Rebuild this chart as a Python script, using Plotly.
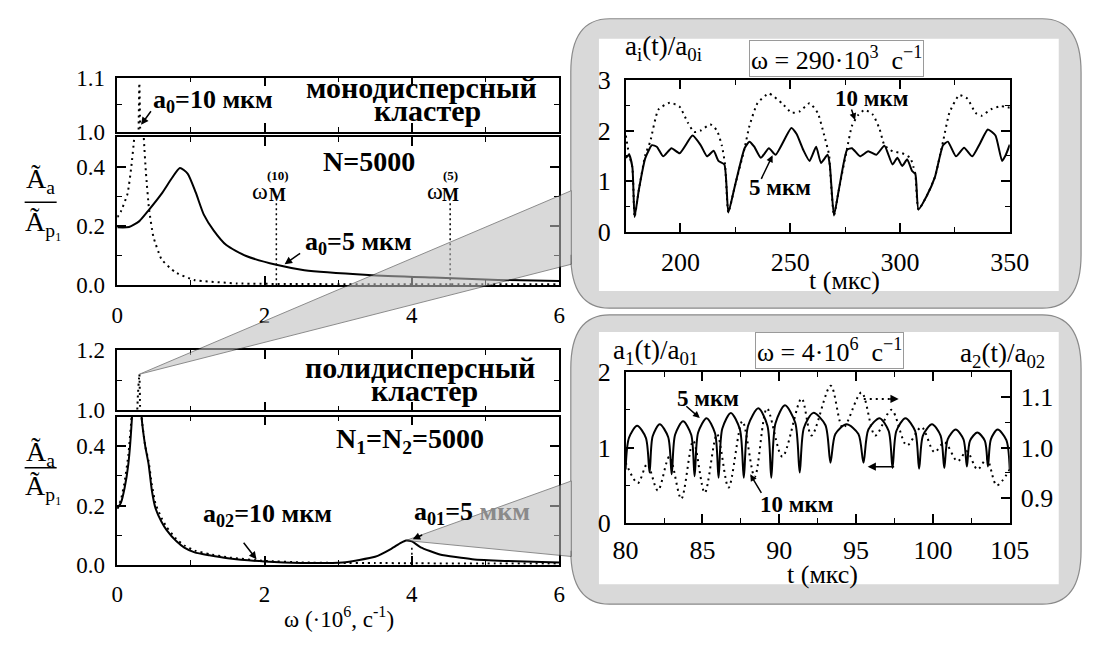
import plotly.graph_objects as go

W, H = 1103, 645
FONT = "Times New Roman, Liberation Serif, Tinos, Times, serif"

# ---------------- data ----------------
# monodisperse cluster, N=5000
w_mono5 = [0.0, 0.16, 0.30, 0.43, 0.60, 0.74, 0.85, 0.955, 1.065, 1.175, 1.31, 1.48, 1.75, 2.16, 2.54, 3.41, 4.29, 5.17, 6.0]
A_mono5 = [0.196, 0.197, 0.217, 0.255, 0.309, 0.362, 0.397, 0.378, 0.314, 0.239, 0.185, 0.136, 0.099, 0.069, 0.051, 0.035, 0.026, 0.018, 0.014]
w_mono10 = [0.0, 0.05, 0.14, 0.19, 0.23, 0.27, 0.30, 0.33, 0.36, 0.39, 0.43, 0.49, 0.60, 0.78, 1.04, 1.63, 2.5, 4.0, 6.0]
A_mono10 = [0.23, 0.25, 0.31, 0.40, 0.50, 0.80, 1.09, 0.80, 0.50, 0.378, 0.26, 0.164, 0.088, 0.045, 0.018, 0.006, 0.004, 0.003, 0.003]
w_M = [2.16, 4.52]          # omega_M^(10), omega_M^(5)
A_M = 0.285                 # height of the marker lines

# polydisperse cluster, N1=N2=5000
w_poly5 = [0, 0.05, 0.1, 0.15, 0.2, 0.24, 0.27, 0.30, 0.33, 0.38, 0.425, 0.47, 0.52, 0.6, 0.67, 0.8, 0.91, 1.05, 1.25,
           1.5, 2.0, 2.5, 3.06, 3.5, 3.72, 3.85, 3.92, 4.0, 4.12, 4.38, 4.82, 5.26, 6.0]
A_poly5 = [0.19, 0.21, 0.26, 0.34, 0.5, 0.75, 0.9, 0.75, 0.5, 0.4, 0.34, 0.25, 0.19, 0.145, 0.117, 0.08, 0.058, 0.042, 0.032,
           0.022, 0.011, 0.006, 0.008, 0.027, 0.054, 0.074, 0.082, 0.079, 0.059, 0.035, 0.019, 0.013, 0.008]
w_poly10 = [0, 0.05, 0.1, 0.15, 0.2, 0.24, 0.28, 0.30, 0.31, 0.33, 0.38, 0.425, 0.47, 0.52, 0.6, 0.67, 0.8, 0.91, 1.05,
            1.25, 1.5, 2.0, 2.5, 3.0, 3.5, 4.0, 5.0, 6.0]
A_poly10 = [0.19, 0.22, 0.28, 0.37, 0.52, 0.8, 1.05, 1.12, 1.0, 0.5, 0.4, 0.35, 0.27, 0.205, 0.158, 0.127, 0.087, 0.065, 0.048,
            0.036, 0.025, 0.013, 0.008, 0.006, 0.006, 0.005, 0.004, 0.004]
w_mark = 4.0
A_mark = 0.065

# a_i(t)/a_0i at omega = 290e3 1/s
t_top5 = [175.1, 176.6, 178.1, 179.1, 181, 184, 187, 189.2, 192.1, 195.9, 199.6, 205.5, 209.2, 212.1, 215.1, 217.3,
          220, 221.8, 224.7, 229.2, 231.4, 233.6, 236.6, 240.3, 243.3, 250.5, 252.9, 255.9, 258.8, 261.8, 264, 267,
          268, 269.9, 272.1, 275.9, 278.1, 281.8, 285.5, 289.2, 292.9, 296.6, 298.8, 301, 303.3, 305.5, 307, 308.4,
          312.1, 315.9, 319.6, 321.8, 325.5, 329.2, 332.9, 336.5, 340, 343.5, 346.5, 348, 350]
a_top5 = [1.46, 1.52, 1.27, 0.29, 0.82, 1.46, 1.71, 1.68, 1.49, 1.65, 1.55, 1.90, 1.71, 1.49, 1.60, 1.40,
          1.33, 0.38, 0.89, 1.65, 1.78, 1.68, 1.46, 1.65, 1.52, 2.05, 1.93, 1.62, 1.40, 1.68, 1.36, 1.52,
          1.33, 0.32, 0.82, 1.62, 1.65, 1.49, 1.59, 1.52, 1.70, 1.33, 1.46, 1.30, 1.43, 1.20, 1.14, 0.44,
          0.70, 1.08, 1.71, 1.78, 1.49, 1.66, 1.49, 1.75, 2.02, 1.90, 1.40, 1.50, 1.72]
t_top10 = [175.1, 176.6, 178.1, 179.1, 181, 184, 186.2, 189.9, 195.1, 199.6, 203.3, 206.2, 209.2, 213.6, 216.6, 218.8,
           220.3, 221.8, 224.7, 229.2, 231.4, 235.1, 240.3, 246.2, 250.7, 254.4, 258.8, 262.5, 265.5, 267.7, 268,
           269.9, 272.1, 275.9, 278.1, 281, 284, 287.7, 290.7, 292.9, 296.6, 301, 304.7, 306.2, 307, 308.4, 312.1,
           315.9, 319.6, 322.5, 327, 330.7, 334.4, 337, 341.5, 346, 350]
a_top10 = [1.90, 1.52, 1.27, 0.29, 0.82, 1.52, 1.78, 2.41, 2.55, 2.47, 2.16, 1.97, 2.0, 2.12, 2.0, 1.71,
           1.33, 0.38, 0.89, 1.65, 2.09, 2.54, 2.73, 2.54, 2.35, 2.38, 2.54, 2.35, 1.90, 1.52, 1.33,
           0.32, 0.82, 1.65, 2.09, 2.31, 2.41, 2.31, 2.03, 1.71, 1.59, 1.55, 1.46, 1.27, 1.14, 0.44, 0.70,
           1.08, 1.78, 2.35, 2.70, 2.63, 2.35, 2.29, 2.42, 2.48, 2.45]

# a_1(t)/a_01 (left axis) and a_2(t)/a_02 (right axis) at omega = 4e6 1/s
t_bot5 = [80.0, 80.22, 80.75, 81.32, 81.56, 81.76, 82.22, 82.77, 83.0, 83.22, 83.74, 84.27, 84.49, 84.72, 85.27, 85.82,
          86.05, 86.29, 86.85, 87.44, 87.69, 87.97, 88.64, 89.23, 89.48, 89.75, 90.37, 91.04, 91.33, 91.6, 92.22, 93.0,
          93.33, 93.65, 94.38, 95.15, 95.48, 95.8, 96.53, 97.12, 97.37, 97.62, 98.21, 98.84, 99.1, 99.35, 99.94, 100.5,
          100.74, 100.96, 101.48, 101.99, 102.21, 102.41, 102.89, 103.38, 103.58, 103.77, 104.21, 104.78, 105.0]
a_bot5 = [0.71, 1.13, 1.29, 1.13, 0.67, 1.15, 1.31, 1.14, 0.645, 1.17, 1.35, 1.17, 0.62, 1.20, 1.39, 1.19,
          0.60, 1.25, 1.46, 1.24, 0.60, 1.29, 1.52, 1.29, 0.60, 1.32, 1.56, 1.33, 0.67, 1.26, 1.46, 1.30,
          0.80, 1.18, 1.31, 1.18, 0.80, 1.24, 1.39, 1.22, 0.73, 1.22, 1.39, 1.22, 0.72, 1.16, 1.31, 1.16,
          0.73, 1.11, 1.24, 1.11, 0.75, 1.09, 1.20, 1.09, 0.75, 1.11, 1.24, 1.10, 0.70]
t_bot10 = [80.0, 80.8, 81.4, 82.1, 82.85, 83.62, 84.4, 85.15, 85.95, 86.7, 87.6, 88.4, 89.2, 90.2, 91.45, 92.1,
           93.35, 94.15, 95.35, 96.25, 97.3, 98.3, 99.25, 100.1, 100.75, 101.6, 102.2, 102.9, 103.5, 104.15, 105.0]
a_bot10 = [0.970, 0.9295, 0.967, 0.9145, 0.982, 0.898, 1.0135, 0.910, 1.027, 0.9205, 1.0525, 0.9415, 1.078, 0.982,
           1.0975, 1.024, 1.123, 1.039, 1.1095, 1.024, 1.075, 1.0045, 1.0405, 0.991, 1.0105, 0.973, 0.9925,
           0.9565, 0.9775, 0.925, 0.9565]

# ---------------- layout geometry (pixels) ----------------
def fx(x):
    return x / W


def fy(y):
    return 1 - y / H


LXP = (107.5, 563.0)
RXP = (631.5, 1027.5)
BOX = {
    "A_up": (66.7, 123.3), "A_lo": (129.3, 284.0),
    "B_up": (352.0, 415.0), "B_lo": (421.7, 576.7),
    "R_top": (69.0, 228.0), "R_bot": (375.0, 533.0),
}
RANGES = {"A_up": (1.0, 1.1), "A_lo": (0, 0.5), "B_up": (1.0, 1.2), "B_lo": (0, 0.5)}
WR = (0, 6)


def dom(key):
    t, b = BOX[key]
    return [fy(b), fy(t)]


def data_px(wv, av, key):
    t, b = BOX[key]
    r0, r1 = RANGES[key]
    x = LXP[0] + (wv - WR[0]) / (WR[1] - WR[0]) * (LXP[1] - LXP[0])
    y = b - (av - r0) / (r1 - r0) * (b - t)
    return x, y


fig = go.Figure()


def add(x, y, xa, ya, dash="solid", width=2.0, shape="linear", smoothing=1.0):
    fig.add_trace(go.Scatter(x=x, y=y, xaxis=xa, yaxis=ya, mode="lines",
                             line=dict(color="black", width=width, dash=dash, shape=shape, smoothing=smoothing),
                             hoverinfo="skip", showlegend=False))


DOT = "2px,4px"
for xa, ya in (("x", "y"), ("x2", "y2")):
    add(w_mono5, A_mono5, xa, ya, shape="spline", smoothing=0.6)
    add(w_mono10, A_mono10, xa, ya, dash=DOT, shape="spline", smoothing=0.4)
for wm in w_M:
    add([wm, wm], [0, A_M], "x2", "y2", dash="2px,3px", width=1.5)
for xa, ya in (("x3", "y3"), ("x4", "y4")):
    add(w_poly5, A_poly5, xa, ya, shape="spline", smoothing=0.5)
    add(w_poly10, A_poly10, xa, ya, dash=DOT, shape="spline", smoothing=0.4)
add([w_mark, w_mark], [0, A_mark], "x4", "y4", dash="2px,3px", width=1.5)
add(t_top10, a_top10, "x5", "y5", dash=DOT, width=2, shape="spline", smoothing=0.5)
add(t_top5, a_top5, "x5", "y5", width=2, shape="spline", smoothing=0.5)
add(t_bot5, a_bot5, "x6", "y6", width=2, shape="spline", smoothing=0.8)
add(t_bot10, a_bot10, "x6", "y7", dash="2px,4px", width=2, shape="spline", smoothing=0.9)

# ---------------- axes ----------------
def minor(dt, ln=5):
    return dict(ticks="inside", ticklen=ln, tickwidth=1.2, tickcolor="black", dtick=dt, showgrid=False)


def base(size=23, **kw):
    d = dict(showline=True, linecolor="black", linewidth=1.5, ticks="inside", tickcolor="black", tickwidth=1.5,
             ticklen=9, showgrid=False, zeroline=False, mirror="ticks",
             tickfont=dict(family=FONT, size=size, color="black"), fixedrange=True)
    d.update(kw)
    return d


lay = {}
LX = [fx(LXP[0]), fx(LXP[1])]
RX = [fx(RXP[0]), fx(RXP[1])]
for i, key in ((1, "A_up"), (2, "A_lo"), (3, "B_up"), (4, "B_lo")):
    sx = "" if i == 1 else str(i)
    upper = key.endswith("up")
    lay["xaxis" + sx] = base(domain=LX, range=list(WR), anchor="y" + sx, dtick=2, tick0=0, minor=minor(1),
                             showticklabels=not upper, ticklabelstandoff=8)
    lay["yaxis" + sx] = base(domain=dom(key), range=list(RANGES[key]), anchor="x" + sx,
                             dtick=(0.1 if key == "A_up" else 0.2), tick0=(1.0 if upper else 0),
                             minor=minor(0.05 if key == "A_up" else 0.1), tickformat=".1f", ticklabelstandoff=6)
lay["xaxis5"] = base(26, domain=RX, range=[175, 350], anchor="y5", dtick=50, tick0=0, minor=minor(25),
                     ticklabelstandoff=6)
lay["yaxis5"] = base(26, domain=dom("R_top"), range=[0, 3], anchor="x5", dtick=1, minor=minor(0.5),
                     ticklabelstandoff=8)
lay["xaxis6"] = base(26, domain=RX, range=[80, 105], anchor="y6", dtick=5, tick0=0, minor=minor(2.5),
                     ticklabelstandoff=3)
lay["yaxis6"] = base(26, domain=dom("R_bot"), range=[0, 2], anchor="x6", dtick=1, minor=minor(0.5),
                     mirror=False, ticklabelstandoff=8)
lay["yaxis7"] = base(26, range=[0.85, 1.15], anchor="x6", overlaying="y6", side="right", dtick=0.1, tick0=0.9,
                     minor=minor(0.05), tickformat=".1f", mirror=False, ticklabelstandoff=4)

# ---------------- decorations ----------------
def P(x, y):
    return f"{fx(x):.5f},{fy(y):.5f}"


def rounded(x0, y0, x1, y1, rx, ry):
    return (f"M{P(x0, y0 + ry)} Q{P(x0, y0)} {P(x0 + rx, y0)} L{P(x1 - rx, y0)} Q{P(x1, y0)} {P(x1, y0 + ry)} "
            f"L{P(x1, y1 - ry)} Q{P(x1, y1)} {P(x1 - rx, y1)} L{P(x0 + rx, y1)} Q{P(x0, y1)} {P(x0, y1 - ry)} Z")


def outline(x0, y0, x1, y1, rx, ry, g0, g1):
    return (f"M{P(x0, g1)} L{P(x0, y1 - ry)} Q{P(x0, y1)} {P(x0 + rx, y1)} L{P(x1 - rx, y1)} "
            f"Q{P(x1, y1)} {P(x1, y1 - ry)} L{P(x1, y0 + ry)} Q{P(x1, y0)} {P(x1 - rx, y0)} "
            f"L{P(x0 + rx, y0)} Q{P(x0, y0)} {P(x0, y0 + ry)} L{P(x0, g0)}")


GRAY = "#d9d9d9"
shapes = []
top_cone = (185, 262)
bot_cone = (489, 568)
for (y0, y1, gap, wy0, wy1) in ((5, 308, top_cone, 26, 290), (315, 618, bot_cone, 333, 597)):
    shapes.append(dict(type="path", xref="paper", yref="paper", layer="below",
                       path=rounded(575, y0, 1101, y1, 40, 56), fillcolor=GRAY, line=dict(width=0)))
    shapes.append(dict(type="path", xref="paper", yref="paper", layer="below",
                       path=outline(575, y0, 1101, y1, 40, 56, gap[0], gap[1]),
                       line=dict(color="#8a8a8a", width=1.2)))
    shapes.append(dict(type="rect", xref="paper", yref="paper", layer="below",
                       x0=fx(604), x1=fx(1078), y0=fy(wy1), y1=fy(wy0), fillcolor="white", line=dict(width=0)))

i_pk = A_poly10.index(max(A_poly10))
ax_, ay_ = data_px(w_poly10[i_pk], A_poly10[i_pk], "B_up")
i_pk2 = max(range(len(w_poly5)), key=lambda i: A_poly5[i] if w_poly5[i] > 3 else -1)
bx_, by_ = data_px(w_poly5[i_pk2], A_poly5[i_pk2], "B_lo")
for (cx, cy), (g0, g1) in (((ax_, ay_), top_cone), ((bx_, by_), bot_cone)):
    shapes.append(dict(type="path", xref="paper", yref="paper", layer="above",
                       path=f"M{P(cx, cy)} L{P(575.5, g0)} L{P(575.5, g1)} Z",
                       fillcolor="rgb(190,190,190)", opacity=0.58, line=dict(color="#3a3a3a", width=1)))

for yb in (197, 475):
    shapes.append(dict(type="line", xref="paper", yref="paper", x0=fx(12), x1=fx(45), y0=fy(yb), y1=fy(yb),
                       line=dict(color="black", width=1.5)))
shapes.append(dict(type="line", xref="paper", yref="paper", x0=fx(877), x1=fx(903), y0=fy(403), y1=fy(403),
                   line=dict(color="black", width=2, dash="2px,4px")))

ann = []


def T(x, y, text, size=22, bold=False, **kw):
    if bold:
        text = f"<b>{text}</b>"
    d = dict(x=fx(x), y=fy(y), xref="paper", yref="paper", text=text, showarrow=False,
             font=dict(family=FONT, size=size, color="black"), xanchor="center", yanchor="middle")
    d.update(kw)
    ann.append(d)


def ARROW(hx, hy, tx, ty, size=1.0):
    ann.append(dict(x=fx(hx), y=fy(hy), xref="paper", yref="paper", ax=tx - hx, ay=ty - hy, text="",
                    showarrow=True, arrowhead=2, arrowsize=size, arrowwidth=1.5, arrowcolor="black",
                    standoff=0, startstandoff=0))


for yn, yd in ((174, 219), (460, 496)):
    T(28, yn, "Ã<sub>a</sub>", 28)
    T(31, yd, "Ã<sub>p₁</sub>", 28)

T(206, 91, "a<sub>0</sub>=10 мкм", 26, True)
ARROW(132, 116, 143, 101)
T(421, 77, "монодисперсный", 30, True)
T(427, 101, "кластер", 30, True)
T(367, 154, "N=5000", 28, True)
T(356, 240, "a<sub>0</sub>=5 мкм", 26, True)
ARROW(280, 262, 297, 250)
for xw, xm, sup in ((255, 273, "(10)"), (435, 451, "(5)")):
    T(xw, 185, "ω", 24)
    T(xm, 189, "M", 18, True)
    T(xm, 169, sup, 13, True)

T(420, 370, "полидисперсный", 30, True)
T(424, 394, "кластер", 30, True)
T(409, 447, "N<sub>1</sub>=N<sub>2</sub>=5000", 28, True)
T(262, 525, "a<sub>02</sub>=10 мкм", 26, True)
ARROW(251, 571, 237, 553)
T(473, 523, "a<sub>01</sub>=5 <span style='color:#8a8a8a'>мкм</span>", 26, True)
ARROW(412, 550, 423, 545)
T(336, 632, "ω (·10<sup>6</sup>, с<sup>-1</sup>)", 23)

T(671, 36, "a<sub>i</sub>(t)/a<sub>0i</sub>", 27)
T(849, 47, "ω = 290·10<sup>3</sup>  с<sup>−1</sup>", 26, bordercolor="#9a9a9a", borderwidth=1, borderpad=1)
T(885, 88, "10 мкм", 23, True)
ARROW(868, 111, 864, 99, 0.9)
T(791, 182, "5 мкм", 23, True)
ARROW(783, 148, 771, 173, 0.9)
T(857, 279, "t (мкс)", 26)

T(662, 354, "a<sub>1</sub>(t)/a<sub>01</sub>", 27)
T(1020, 357, "a<sub>2</sub>(t)/a<sub>02</sub>", 27)
T(842, 352, "ω = 4·10<sup>6</sup>  с<sup>−1</sup>", 26, bordercolor="#9a9a9a", borderwidth=1, borderpad=1)
T(716, 403, "5 мкм", 23, True)
ARROW(708, 423, 693, 410, 0.9)
T(808, 514, "10 мкм", 23, True)
ARROW(760, 482, 772, 502, 0.9)
ARROW(913, 403, 901, 403, 1.1)
ARROW(881, 474, 909, 474, 1.1)
T(834, 587, "t (мкс)", 26)

fig.update_layout(
    width=W, height=H, margin=dict(l=0, r=0, t=0, b=0),
    paper_bgcolor="white", plot_bgcolor="rgba(0,0,0,0)",
    font=dict(family=FONT, color="black"), showlegend=False,
    shapes=shapes, annotations=ann, **lay,
)
fig.write_html("out.html", config={"displayModeBar": False},
               post_script="document.body.style.margin='0';document.body.style.overflow='hidden';")
